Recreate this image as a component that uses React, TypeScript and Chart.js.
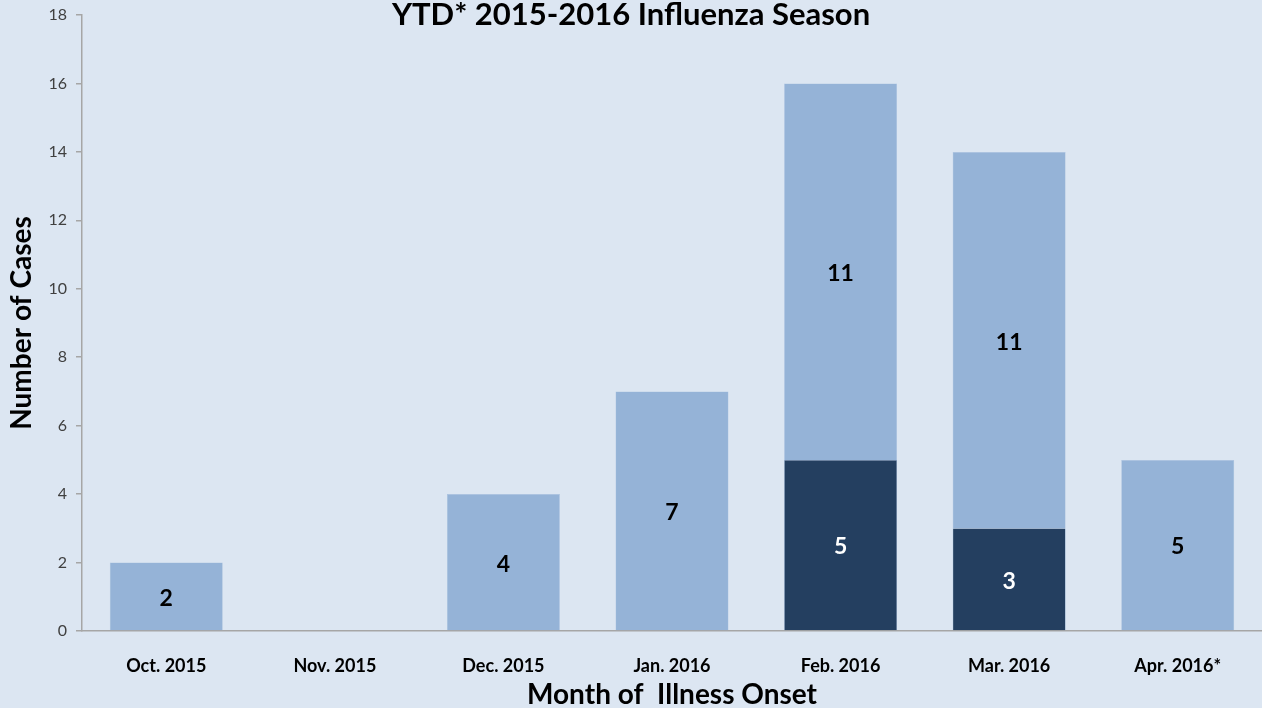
import React, { useEffect, useRef } from "react";
import { Chart, registerables } from "chart.js";

Chart.register(...registerables);

const categories = ["Oct. 2015", "Nov. 2015", "Dec. 2015", "Jan. 2016", "Feb. 2016", "Mar. 2016", "Apr. 2016*"];
const darkSeries = [0, 0, 0, 0, 5, 3, 0];
const lightSeries = [2, 0, 4, 7, 11, 11, 5];
const chartTitle = "YTD* 2015-2016 Influenza Season";
const yTitle = "Number of Cases";
const xTitle = "Month of  Illness Onset";

const FONT = "Lato, 'Open Sans', sans-serif";
const BG = "#DCE6F2";
const LIGHT = "#95B3D7";
const DARK = "#243F60";
const AXIS = "#A6A6A6";

const labelPlugin = {
  id: "segLabels",
  afterDatasetsDraw(chart: any) {
    const ctx = chart.ctx;
    ctx.save();
    ctx.textAlign = "center";
    ctx.textBaseline = "middle";
    ctx.font = `bold 23px ${FONT}`;
    chart.data.datasets.forEach((ds: any, di: number) => {
      const meta = chart.getDatasetMeta(di);
      meta.data.forEach((bar: any, i: number) => {
        const v = ds.data[i];
        if (!v) return;
        const y = (bar.y + bar.base) / 2;
        ctx.fillStyle = di === 0 ? "#FFFFFF" : "#000000";
        ctx.fillText(String(v), bar.x, y + 2);
      });
    });
    ctx.restore();
  },
  afterDraw(chart: any) {
    const ctx = chart.ctx;
    ctx.save();
    ctx.textAlign = "center";
    ctx.textBaseline = "alphabetic";
    ctx.font = `bold 31px ${FONT}`;
    ctx.fillStyle = "#000000";
    ctx.fillText(chartTitle, chart.width / 2, 25);
    ctx.restore();
  },
};

export default function App() {
  const ref = useRef<HTMLCanvasElement | null>(null);
  useEffect(() => {
    document.body.style.margin = "0";
    const chart = new Chart(ref.current as HTMLCanvasElement, {
      type: "bar",
      data: {
        labels: categories,
        datasets: [
          { label: "dark", data: darkSeries, backgroundColor: DARK, borderColor: "#8EAAD0", borderWidth: 0.5, barPercentage: 0.67, categoryPercentage: 1 },
          { label: "light", data: lightSeries, backgroundColor: LIGHT, borderColor: "#A9C1DF", borderWidth: 0.5, barPercentage: 0.67, categoryPercentage: 1 },
        ],
      },
      options: {
        animation: false,
        responsive: false,
        maintainAspectRatio: false,
        layout: { padding: { top: 15, left: 0, right: 0, bottom: 0 } },
        plugins: { legend: { display: false }, tooltip: { enabled: false }, title: { display: false } },
        scales: {
          x: {
            stacked: true,
            grid: { display: false },
            border: { display: true, color: AXIS, width: 1.5 },
            ticks: { color: "#000", font: { family: FONT, size: 18, weight: "bold" }, padding: 16, maxRotation: 0 },
            title: { display: true, text: xTitle, color: "#000", font: { family: FONT, size: 28, weight: "bold", lineHeight: 1 }, padding: { top: 0, bottom: -1 } },
            afterFit(scale: any) { scale.height = 77; scale.paddingLeft = 0; scale.paddingRight = 0; },
          },
          y: {
            stacked: true,
            min: 0,
            max: 18,
            ticks: { stepSize: 2, color: "#404040", font: { family: FONT, size: 16 }, padding: 9 },
            grid: { drawOnChartArea: false, tickLength: 6, color: AXIS, lineWidth: 1.5 },
            border: { display: true, color: AXIS, width: 1.5 },
            title: { display: true, text: yTitle, color: "#000", font: { family: FONT, size: 28, weight: "bold", lineHeight: 1 }, padding: { top: 8, bottom: 0 } },
            afterFit(scale: any) { scale.width = 82; scale.paddingTop = 0; scale.paddingBottom = 0; },
          },
        },
      },
      plugins: [labelPlugin],
    } as any);
    return () => chart.destroy();
  }, []);
  return (
    <div style={{ position: "fixed", left: 0, top: 0, width: 1262, height: 708, background: BG }}>
      <canvas ref={ref} width={1262} height={708} style={{ display: "block" }} />
    </div>
  );
}
